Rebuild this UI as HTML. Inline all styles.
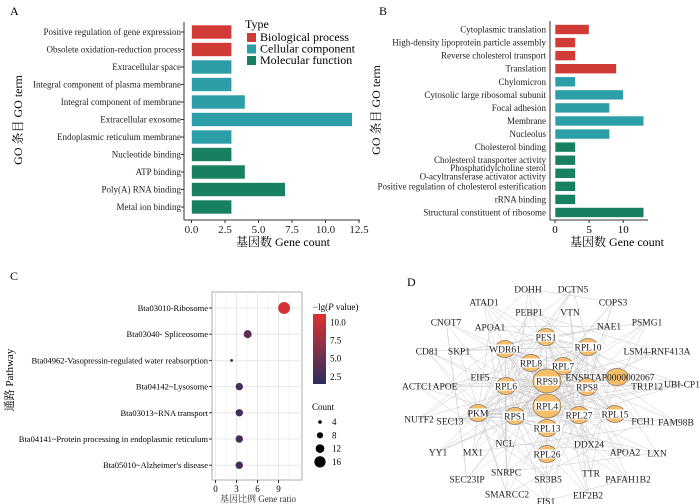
<!DOCTYPE html>
<html><head><meta charset="utf-8">
<style>
html,body{margin:0;padding:0;background:#fff;}
svg{display:block;font-family:"Liberation Serif","Noto Serif CJK SC",serif;}
</style></head>
<body>
<svg id="fig" width="700" height="504" viewBox="0 0 700 504" xmlns="http://www.w3.org/2000/svg">
<g id="pA"></g>
<g id="pB"></g>
<g id="pC"></g>
<g id="pD"></g>
</svg>
<script>
// ---------- Panel A data ----------
const aTerms = ["Positive regulation of gene expression","Obsolete oxidation-reduction process","Extracellular space","Integral component of plasma membrane","Integral component of membrane","Extracellular exosome","Endoplasmic reticulum membrane","Nucleotide binding","ATP binding","Poly(A) RNA binding","Metal ion binding"];
const aCounts = [3,3,3,3,4,12,3,3,4,7,3];
const aTypes = ["BP","BP","CC","CC","CC","CC","CC","MF","MF","MF","MF"];
const aTicks = [0,2.5,5,7.5,10,12.5];
const aTickLabels = ["0.0","2.5","5.0","7.5","10.0","12.5"];
// ---------- Panel B data ----------
const bTerms = ["Cytoplasmic translation","High-density lipoprotein particle assembly","Reverse cholesterol transport","Translation","Chylomicron","Cytosolic large ribosomal subunit","Focal adhesion","Membrane","Nucleolus","Cholesterol binding","Cholesterol transporter activity","Phosphatidylcholine sterol|O-acyltransferase activator activity","Positive regulation of cholesterol esterification","rRNA binding","Structural constituent of ribosome"];
const bCounts = [5,3,3,9,3,10,8,13,8,3,3,3,3,3,13];
const bTypes = ["BP","BP","BP","BP","CC","CC","CC","CC","CC","MF","MF","MF","MF","MF","MF"];
const bTicks = [0,5,10];
// ---------- Panel C data ----------
const cPaths = ["Bta03010-Ribosome","Bta03040- Spliceosome","Bta04962-Vasopressin-regulated water reabsorption","Bta04142~Lysosome","Bta03013~RNA transport","Bta04141~Protein processing in endoplasmic reticulum","Bta05010~Alzheimer's disease"];
const cRatio = [9.8,4.6,2.3,3.4,3.4,3.4,3.4];
const cCount = [17,11,3,10,10,10,10];
const cP = [10.8,4.0,3.2,2.8,2.8,2.8,2.8];
const cTicks = [0,3,6,9];
const cPTicks = [2.5,5.0,7.5,10.0];
const cCountTicks = [4,8,12,16];

const NS="http://www.w3.org/2000/svg";
const colors={BP:"#d13b35",CC:"#2b9ea8",MF:"#168060"};
function mk(parent,tag,attrs,text){const e=document.createElementNS(NS,tag);for(const k in attrs)e.setAttribute(k,attrs[k]);if(text!==undefined)e.textContent=text;parent.appendChild(e);return e;}

// ---------- Panel A ----------
(function(){
 const g=document.getElementById('pA');
 const x0=191.5,ppu=13.4,y0=32,step=17.5,bh=14;
 const xs=v=>x0+v*ppu, ys=i=>y0+i*step;
 let t=mk(g,'text',{x:10,y:15,'font-size':12},'A');
 let ax=mk(g,'line',{x1:184,y1:22,x2:184,y2:220,stroke:'#333','stroke-width':1});
 ax=mk(g,'line',{x1:184,y1:220,x2:360,y2:220,stroke:'#333','stroke-width':1});
 aTerms.forEach((n,i)=>{
  const r=mk(g,'rect',{x:xs(0),y:ys(i)-bh/2,width:xs(aCounts[i])-xs(0),height:bh,fill:colors[aTypes[i]],stroke:'#fff','stroke-width':0.6});
  
  const l=mk(g,'text',{x:181,y:ys(i)+3,'font-size':9,'text-anchor':'end',fill:'#222'},n);
  
  mk(g,'line',{x1:181,y1:ys(i),x2:184,y2:ys(i),stroke:'#333'});
 });
 aTicks.forEach((v,i)=>{
  mk(g,'line',{x1:xs(v),y1:220,x2:xs(v),y2:223,stroke:'#333'});
  const l=mk(g,'text',{x:xs(v),y:233,'font-size':11,'text-anchor':'middle',fill:'#222'},aTickLabels[i]);
  
 });
 t=mk(g,'text',{x:283,y:246,'font-size':12,'text-anchor':'middle'},'基因数  Gene count');
 t=mk(g,'text',{x:22,y:120,'font-size':12,'text-anchor':'middle',transform:'rotate(-90 22 120)'},'GO 条目 GO term');
 t=mk(g,'text',{x:245,y:28,'font-size':12},'Type');
 [["BP","Biological process"],["CC","Cellular component"],["MF","Molecular function"]].forEach((e,i)=>{
  const s=mk(g,'rect',{x:247,y:33+i*11.5,width:9,height:9,fill:colors[e[0]]});
  const l=mk(g,'text',{x:260,y:41+i*11.5,'font-size':12},e[1]);
 });
})();

// ---------- Panel B ----------
(function(){
 const g=document.getElementById('pB');
 const x0=555,ppu=6.83,y0=29.5,step=13.07,bh=10;
 const xs=v=>x0+v*ppu, ys=i=>y0+i*step;
 let t=mk(g,'text',{x:379,y:15,'font-size':12},'B');
 let ax=mk(g,'line',{x1:550,y1:21,x2:550,y2:220,stroke:'#333'});
 ax=mk(g,'line',{x1:550,y1:220,x2:648,y2:220,stroke:'#333'});
 bTerms.forEach((n,i)=>{
  const r=mk(g,'rect',{x:xs(0),y:ys(i)-bh/2,width:xs(bCounts[i])-xs(0),height:bh,fill:colors[bTypes[i]],stroke:'#fff','stroke-width':0.6});
  
  const parts=n.split('|');
  parts.forEach((p,j)=>{
   const yy=parts.length>1?ys(i)-1+(j-0.5)*8.5+3:ys(i)+3;
   const l=mk(g,'text',{x:546,y:yy,'font-size':9,'text-anchor':'end',fill:'#222'},p);
   
  });
 });
 bTicks.forEach(v=>{
  mk(g,'line',{x1:xs(v),y1:220,x2:xs(v),y2:223,stroke:'#333'});
  const l=mk(g,'text',{x:xs(v),y:233,'font-size':11,'text-anchor':'middle'},String(v));
  
 });
 t=mk(g,'text',{x:617,y:246,'font-size':12,'text-anchor':'middle'},'基因数  Gene count');
 t=mk(g,'text',{x:380,y:110,'font-size':12,'text-anchor':'middle',transform:'rotate(-90 380 110)'},'GO 条目 GO term');
})();

// ---------- Panel C ----------
(function(){
 const g=document.getElementById('pC');
 const x0=215.5,ppu=7,y0=308,step=26.2;
 const xs=v=>x0+v*ppu, ys=i=>y0+i*step;
 const pMin=1.5,pMax=11.2,cbTop=314,cbBot=384;
 const pY=v=>cbBot-(v-pMin)/(pMax-pMin)*(cbBot-cbTop);
 const rad=c=>0.5+c*0.32;
 function pcol(v){const f=Math.max(0,Math.min(1,(v-pMin)/(pMax-pMin)));const a=[43,47,94],b=[220,50,50];return 'rgb('+a.map((x,k)=>Math.round(x+(b[k]-x)*f)).join(',')+')';}
 let t=mk(g,'text',{x:10,y:280,'font-size':12},'C');
 let bg=mk(g,'rect',{x:212,y:292,width:90,height:188,fill:'#fff',stroke:'#999','stroke-width':0.8});
 for(let v=1.5;v<12;v+=1.5){mk(g,'line',{x1:xs(v),y1:292,x2:xs(v),y2:480,stroke:'#ececec','stroke-width':0.6});}
 cPaths.forEach((n,i)=>mk(g,'line',{x1:212,y1:ys(i),x2:302,y2:ys(i),stroke:'#e4e4e4','stroke-width':0.8}));
 cTicks.forEach(v=>mk(g,'line',{x1:xs(v),y1:292,x2:xs(v),y2:480,stroke:'#e4e4e4','stroke-width':0.8}));
 cPaths.forEach((n,i)=>{
  const l=mk(g,'text',{x:208,y:ys(i)+3,'font-size':8.5,'text-anchor':'end'},n);
  mk(g,'line',{x1:209,y1:ys(i),x2:212,y2:ys(i),stroke:'#333'});
  const c=mk(g,'circle',{cx:xs(cRatio[i]),cy:ys(i),r:rad(cCount[i]),fill:pcol(cP[i])});
 });
 cTicks.forEach(v=>{
  mk(g,'line',{x1:xs(v),y1:480,x2:xs(v),y2:483,stroke:'#333'});
  const l=mk(g,'text',{x:xs(v),y:492,'font-size':9,'text-anchor':'middle'},String(v));
 });
 t=mk(g,'text',{x:258,y:502,'font-size':9,'text-anchor':'middle',fill:'#333'},'基因比例  Gene ratio');
 t=mk(g,'text',{x:13,y:380,'font-size':11,'text-anchor':'middle',transform:'rotate(-90 13 380)'},'通路  Pathway');
 const defs=mk(g,'defs',{});const lg=mk(defs,'linearGradient',{id:'cbg',x1:0,y1:1,x2:0,y2:0});
 mk(lg,'stop',{offset:'0','stop-color':pcol(pMin)});mk(lg,'stop',{offset:'0.5','stop-color':pcol((pMin+pMax)/2)});mk(lg,'stop',{offset:'1','stop-color':pcol(pMax)});
 t=mk(g,'text',{x:313,y:310,'font-size':9},'');t.innerHTML='−lg(<tspan font-style="italic">P</tspan> value)';
 const cb=mk(g,'rect',{x:313,y:cbTop,width:13,height:cbBot-cbTop,fill:'url(#cbg)'});
 cPTicks.forEach(v=>{
  const l=mk(g,'text',{x:330,y:pY(v)+3,'font-size':9},v.toFixed(1));
 });
 t=mk(g,'text',{x:312,y:410,'font-size':9},'Count');
 cCountTicks.forEach((v,i)=>{
  const yy=422+i*13.3;
  const c=mk(g,'circle',{cx:320,cy:yy,r:rad(v),fill:'#000'});
  const l=mk(g,'text',{x:332,y:yy+3,'font-size':9},String(v));
 });
})();

// ---------- Panel D network ----------
const dNodes=[["DOHH",528,289,0],["DCTN5",573,289,0],["ATAD1",484,302,0],["COPS3",613,302,0],["PEBP1",529,312,0],["VTN",570,312,0],["CNOT7",446,322,0],["APOA1",490,327,0],["NAE1",609,326,0],["PSMG1",647,322,0],["PES1",546,337,1],["WDR61",505,349,1],["RPL10",588,347,1],["CD81",427,351,0],["SKP1",459,351,0],["LSM4-RNF413A",657,351,0],["RPL8",531,363,1],["RPL7",563,366,1],["EIF5",480,377,0],["RPS9",547,381,2],["ENSBTAP0000002067",610,377,3],["ACTC1",417,386,0],["APOE",445,386,0],["RPL6",506,386,1],["RPS8",587,387,1],["TR1P12",647,386,0],["UBI-CP1",682,384,0],["RPL4",547,406,2],["PKM",478,413,1],["RPS1",515,416,1],["RPL27",579,415,1],["RPL15",615,414,1],["NUTF2",419,419,0],["SEC13",450,421,0],["FCH1",643,421,0],["FAM98B",676,422,0],["RPL13",547,428,1],["NCL",505,443,0],["DDX24",589,444,0],["YY1",438,452,0],["MX1",473,452,0],["RPL26",547,454,1],["APOA2",625,452,0],["LXN",657,453,0],["SNRPC",506,472,0],["SEC23IP",467,479,0],["SR3B5",548,479,0],["TTR",591,473,0],["PAFAH1B2",628,479,0],["SMARCC2",507,494,0],["EIF2B2",588,495,0],["FIS1",546,501,0]];
const dHubs=["RPS9","RPL4","RPL13","RPL27","RPS1","RPL6","RPL8","RPL7","RPS8","RPL10","WDR61","RPL26","RPL15","PKM","PES1"];
(function(){
 const g=document.getElementById('pD');
 let t=mk(g,'text',{x:407,y:286,'font-size':12},'D');
 const pos={};dNodes.forEach(n=>pos[n[0]]={x:n[1],y:n[2]});
 const eg=mk(g,'g',{stroke:'#aaa5a5','stroke-width':0.5,opacity:0.6});
 
 for(let i=0;i<dHubs.length;i++)for(let j=i+1;j<dHubs.length;j++){const a=pos[dHubs[i]],b=pos[dHubs[j]];mk(eg,'line',{x1:a.x,y1:a.y,x2:b.x,y2:b.y});}
 dNodes.forEach((n,k)=>{if(dHubs.includes(n[0]))return;for(let m=0;m<3;m++){const h=pos[dHubs[(k*5+m*4)%dHubs.length]];mk(eg,'line',{x1:n[1],y1:n[2],x2:h.x,y2:h.y});}
  const o=dNodes[(k*7+3)%dNodes.length];mk(eg,'line',{x1:n[1],y1:n[2],x2:o[1],y2:o[2]});});
 dNodes.forEach(n=>{
  const [name,x,y,s]=n;
  const ng=mk(g,'g',{});
  if(s>0){
   const rx=s===2?14:(s===3?11:10), ry=s===2?12:8.5;
   const cx=s===3?x+7:x;
   mk(ng,'ellipse',{cx:cx,cy:y,rx:rx,ry:ry,fill:'#f8bf6b',stroke:'#8a7b6b','stroke-width':0.8});
   if(s!==3){const w=name.length*5.6+2;mk(ng,'rect',{x:x-w/2,y:y-4.5,width:w,height:9,fill:'#fff'});}
  }
  mk(ng,'text',{x:x,y:y+3.3,'font-size':9.5,'text-anchor':'middle',fill:'#222'},name);
 });
})();
</script>
</body></html>
